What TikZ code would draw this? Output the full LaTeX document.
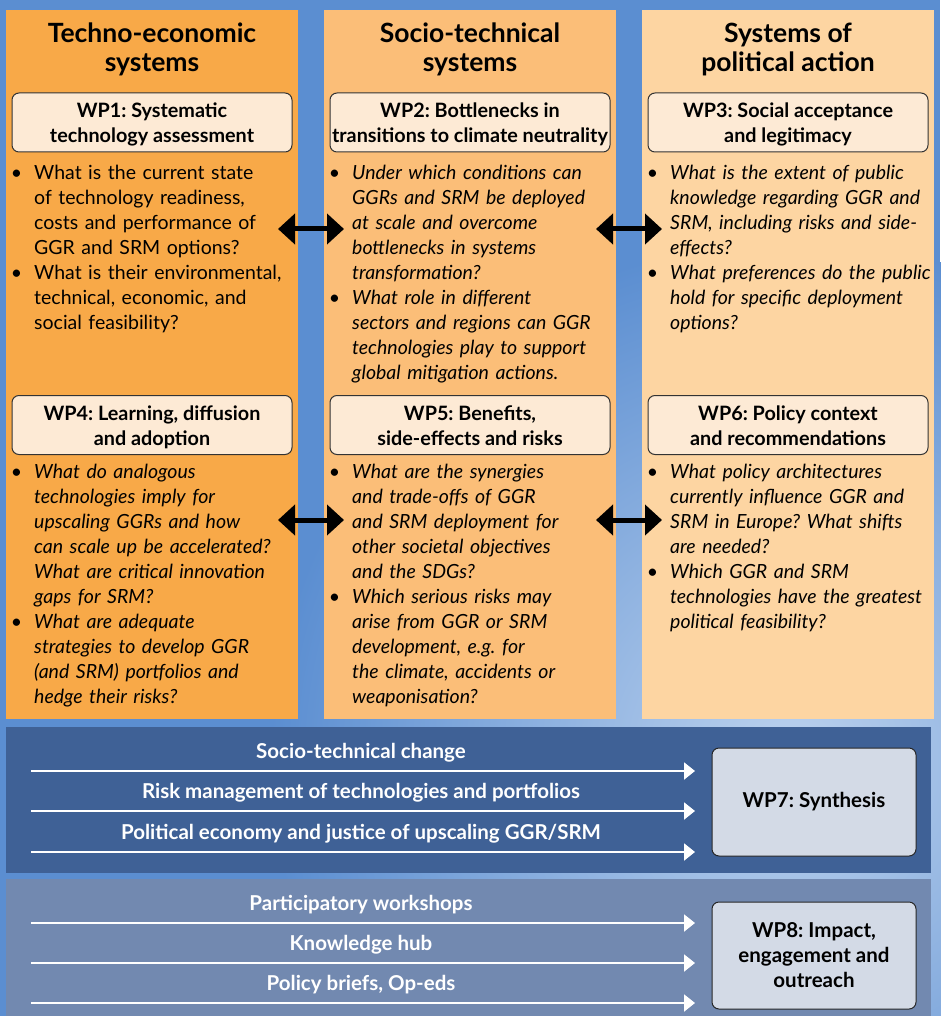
\documentclass[tikz,border=0pt]{standalone}
\usepackage{fontspec}
\setmainfont{Lato}
\usepackage{enumitem}
\usetikzlibrary{arrows.meta}
\frenchspacing

\definecolor{skyblue}{HTML}{5B8ED1}
\definecolor{lightsky}{HTML}{BCD2EE}
\definecolor{techno}{HTML}{F8A948}
\definecolor{socio}{HTML}{FBBE78}
\definecolor{polit}{HTML}{FDD5A2}
\definecolor{wpfill}{HTML}{FDEAD5}
\definecolor{synblue}{HTML}{3F6196}
\definecolor{impblue}{HTML}{7289B0}
\definecolor{outfill}{HTML}{D3DAE6}

% bullet list used in the question blocks
\newenvironment{qlist}{\begin{itemize}[nosep,leftmargin=22pt,labelsep=12pt]}{\end{itemize}}

\tikzset{
  colbox/.style={fill=#1, minimum width=292pt, minimum height=709pt, anchor=north west, inner sep=0pt},
  headtext/.style={anchor=north, align=center, font=\bfseries\fontsize{26.5}{29}\selectfont},
  wpbox/.style={draw=black!80, fill=wpfill, rounded corners=7pt, line width=1pt, minimum width=280pt,
    minimum height=59pt, inner sep=0pt, align=center, font=\bfseries\fontsize{19.8}{25}\selectfont,
    text height=45.5pt, text depth=5pt},
  qtext/.style={anchor=north west, text width=285pt, inner sep=0pt, align=left, font=\fontsize{19.5}{25}\selectfont},
  qital/.style={qtext, font=\itshape\fontsize{19.5}{25}\selectfont},
  linkarrow/.style={{Triangle[width=30pt,length=17pt]}-{Triangle[width=30pt,length=17pt]}, line width=5pt},
  panel/.style={fill=#1, minimum width=925pt, anchor=north west, inner sep=0pt},
  flowarrow/.style={-{Triangle[width=17pt,length=11pt]}, white, line width=2pt},
  flowtext/.style={text=white, font=\bfseries\fontsize{20.5}{23}\selectfont},
  wpout/.style={draw=black!85, fill=outfill, rounded corners=7pt, line width=1pt, minimum width=204pt,
    inner sep=0pt, align=center, font=\bfseries\fontsize{20.5}{25}\selectfont},
}

\begin{document}
\begin{tikzpicture}[x=1pt, y=-1pt]
  \useasboundingbox (0,0) rectangle (940,1016);
  \fill[skyblue] (0,0) rectangle (940,1016);
  % lighter sky towards the lower right
  \shade[inner color=lightsky, outer color=skyblue] (790,760) circle (520);

  % the three system columns
  \foreach \i/\x/\col/\t in {1/6/techno/{Techno-economic\\systems},
                             2/324/socio/{Socio-technical\\systems},
                             3/642/polit/{Systems of\\political action}} {
    \node[colbox=\col] (col\i) at (\x,10) {};
    \node[headtext] (head\i) at (\x+146,19) {\t};
  }

  % work packages
  \node[wpbox] (wp1) at (152,122.5) {WP1: Systematic\\technology assessment};
  \node[wpbox] (wp2) at (470,122.5) {WP2: Bottlenecks in\\transitions to climate neutrality};
  \node[wpbox] (wp3) at (788,122.5) {WP3: Social acceptance\\and legitimacy};
  \node[wpbox] (wp4) at (152,425) {WP4: Learning, diffusion\\and adoption};
  \node[wpbox] (wp5) at (470,425) {WP5: Benefits,\\side-effects and risks};
  \node[wpbox] (wp6) at (788,425) {WP6: Policy context\\and recommendations};

  % research questions
  \node[qtext] (q1) at (12,154) {\begin{qlist}
    \item What is the current state\newline of technology readiness,\newline costs and performance of\newline GGR and SRM options?
    \item What is their environmental,\newline technical, economic, and\newline social feasibility?
  \end{qlist}};
  \node[qital] (q2) at (330,154) {\begin{qlist}
    \item Under which conditions can\newline GGRs and SRM be deployed\newline at scale and overcome\newline bottlenecks in systems\newline transformation?
    \item What role in different\newline sectors and regions can GGR\newline technologies play to support\newline global mitigation actions.
  \end{qlist}};
  \node[qital] (q3) at (648,154) {\begin{qlist}
    \item What is the extent of public\newline knowledge regarding GGR and\newline SRM, including risks and side-\newline effects?
    \item What preferences do the public\newline hold for specific deployment\newline options?
  \end{qlist}};
  \node[qital] (q4) at (12,453.5) {\begin{qlist}
    \item What do analogous\newline technologies imply for\newline upscaling GGRs and how\newline can scale up be accelerated?\newline What are critical innovation\newline gaps for SRM?
    \item What are adequate\newline strategies to develop GGR\newline (and SRM) portfolios and\newline hedge their risks?
  \end{qlist}};
  \node[qital] (q5) at (330,453.5) {\begin{qlist}
    \item What are the synergies\newline and trade-offs of GGR\newline and SRM deployment for\newline other societal objectives\newline and the SDGs?
    \item Which serious risks may\newline arise from GGR or SRM\newline development, e.g. for\newline the climate, accidents or\newline weaponisation?
  \end{qlist}};
  \node[qital] (q6) at (648,453.5) {\begin{qlist}
    \item What policy architectures\newline currently influence GGR and\newline SRM in Europe? What shifts\newline are needed?
    \item Which GGR and SRM\newline technologies have the greatest\newline political feasibility?
  \end{qlist}};

  % links between neighbouring columns
  \foreach \y/\r in {229/1, 520/2} {
    \coordinate (p\r a) at (278,\y);
    \coordinate (p\r b) at (344,\y);
    \coordinate (p\r c) at (596,\y);
    \coordinate (p\r d) at (662,\y);
    \draw[linkarrow] (p\r a) -- (p\r b);
    \draw[linkarrow] (p\r c) -- (p\r d);
  }

  % synthesis and outreach bands
  \node[panel=synblue, minimum height=146pt] (band7) at (6,727) {};
  \node[panel=impblue, minimum height=137pt] (band8) at (6,879) {};
  \node[wpout, minimum height=108pt] (wp7) at (814,802) {WP7: Synthesis};
  \node[wpout, minimum height=107pt] (wp8) at (814,955.5) {WP8: Impact,\\engagement and\\outreach};

  \foreach \y/\t [count=\k] in {771/{Socio-technical change},
                                811/{Risk management of technologies and portfolios},
                                852/{Political economy and justice of upscaling GGR/SRM},
                                923/{Participatory workshops},
                                963/{Knowledge hub},
                                1003/{Policy briefs, Op-eds}} {
    \coordinate (s\k) at (31,\y);
    \coordinate (e\k) at (695,\y);
    \draw[flowarrow] (s\k) -- (e\k);
    \node[flowtext] (lab\k) at (361,\y-18) {\t};
  }
\end{tikzpicture}
\end{document}
